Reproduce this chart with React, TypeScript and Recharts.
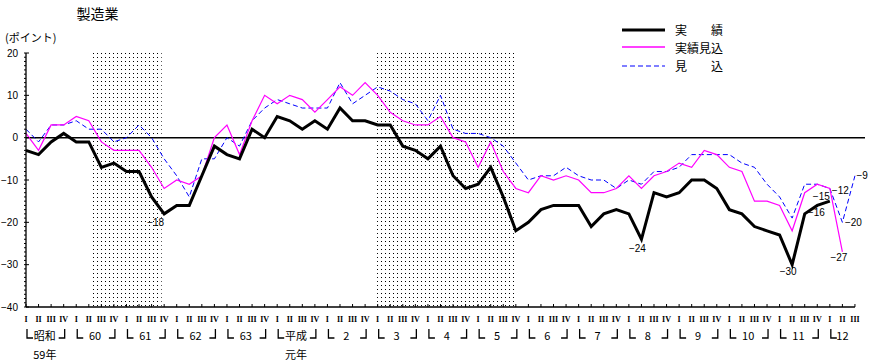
import React from "react"
import {
  LineChart,
  Line,
  XAxis,
  YAxis,
  ReferenceLine,
  ReferenceArea,
  LabelList,
} from "recharts"

// 昭和59年I期 〜 平成12年III期 (67 quarters)
const quarterNames = ["I", "II", "III", "IV"]
const yearNames = ["昭和", "60", "61", "62", "63", "平成", "2", "3", "4", "5", "6", "7", "8", "9", "10", "11", "12"]
const yearSubNames: Record<number, string> = { 0: "59年", 5: "元年" }

// 実績
const jisseki = [
  -3, -4, -1, 1, -1, -1, -7, -6, -8, -8, -14, -18, -16, -16, -9, -2,
  -4, -5, 2, 0, 5, 4, 2, 4, 2, 7, 4, 4, 3, 3, -2, -3,
  -5, -2, -9, -12, -11, -7, -14, -22, -20, -17, -16, -16, -16, -21, -18, -17,
  -18, -24, -13, -14, -13, -10, -10, -12, -17, -18, -21, -22, -23, -30, -18, -16,
  -15, null, null,
]
// 実績見込
const jissekiMikomi = [
  1, -3, 3, 3, 5, 4, -1, -3, -3, -3, -7, -12, -10, -11, -9, 0,
  3, -4, 4, 10, 8, 10, 9, 6, 9, 12, 10, 13, 10, 6, 4, 3,
  3, 5, 0, -1, -7, -1, -8, -12, -13, -9, -10, -9, -10, -13, -13, -12,
  -9, -12, -9, -8, -6, -7, -3, -4, -7, -8, -15, -15, -16, -22, -13, -11,
  -12, -27, null,
]
// 見込
const mikomi = [
  2, -1, 3, 3, 4, 2, 2, -1, 0, 3, 0, -5, -9, -14, -5, -5,
  0, -2, 4, 7, 9, 8, 7, 7, 7, 13, 8, 10, 12, 11, 9, 8,
  4, 10, 2, 1, 1, 0, -2, -6, -10, -9, -9, -7, -9, -10, -10, -12,
  -10, -11, -8, -8, -7, -4, -4, -4, -4, -6, -7, -11, -14, -19, -11, -11,
  -12, -20, -9,
]

// 景気後退期 (quarter index)
const shadedPeriods: [number, number][] = [
  [5.2, 10.8],
  [27.95, 38.9],
]

const data = jisseki.map((v, i) => ({
  i,
  jisseki: v,
  jissekiMikomi: jissekiMikomi[i],
  mikomi: mikomi[i],
}))

const W = 877
const H = 363
const Y_AXIS_W = 26
const RIGHT = 12
const X_MAX = 66.8
const QW = (W - Y_AXIS_W - RIGHT) / X_MAX

const JP = "'Noto Sans CJK JP', sans-serif"
const NUM = "'Liberation Sans', sans-serif"

const fmt = (v: number) => (v < 0 ? "\u2212" + Math.abs(v) : String(v))

type Spot = { dx: number; dy: number; anchor: "start" | "middle" | "end" }
const jissekiLabels: Record<number, Spot> = {
  11: { dx: 0, dy: 9, anchor: "end" },
  49: { dx: -4, dy: 9, anchor: "middle" },
  61: { dx: -4, dy: 7, anchor: "middle" },
  63: { dx: 7.5, dy: 7.5, anchor: "end" },
  64: { dx: 0, dy: -4.5, anchor: "end" },
}
const mikomiJLabels: Record<number, Spot> = {
  65: { dx: -3.5, dy: 6, anchor: "middle" },
}
const mikomiLabels: Record<number, Spot> = {
  64: { dx: 2, dy: 2, anchor: "start" },
  65: { dx: 2.5, dy: 0.5, anchor: "start" },
  66: { dx: 1.5, dy: 0, anchor: "start" },
}

const makeLabel = (spots: Record<number, Spot>) => (props: any) => {
  const { x, y, value, index } = props
  const s = spots[index]
  if (!s || value == null) return null
  return (
    <text
      x={x + s.dx}
      y={y + s.dy}
      textAnchor={s.anchor}
      dominantBaseline="central"
      fontSize={10}
      fontFamily={NUM}
      fill="#000"
    >
      {fmt(value)}
    </text>
  )
}

function XTick(props: any) {
  const { x, y, payload } = props
  const i = payload.value as number
  const q = i % 4
  const yr = Math.floor(i / 4)
  const last = yr === yearNames.length - 1
  const span = (last ? 2 : 3) * QW
  const sub = yearSubNames[yr]
  return (
    <g>
      <line x1={x} x2={x} y1={y} y2={y - 3} stroke="#000" />
      <text
        x={x}
        y={y + 12.5}
        textAnchor="middle"
        dominantBaseline="central"
        fontSize={8}
        fontWeight="bold"
        fontFamily="'Liberation Serif', serif"
        fill="#000"
      >
        {quarterNames[q]}
      </text>
      {q === 0 && (
        <g>
          <path d={`M${x + 1},${y + 22} V${y + 31} H${x + 7}`} fill="none" stroke="#000" strokeWidth={1.3} />
          {!last && (
            <path d={`M${x + span - 5},${y + 31} H${x + span + 1} V${y + 22}`} fill="none" stroke="#000" strokeWidth={1.3} />
          )}
          <text
            x={x + span / 2}
            y={y + 27.5}
            textAnchor="middle"
            dominantBaseline="central"
            fontSize={11}
            fontFamily={JP}
            fill="#000"
          >
            {yearNames[yr]}
          </text>
          {sub && (
            <text
              x={x + span / 2}
              y={y + 46.5}
              textAnchor="middle"
              dominantBaseline="central"
              fontSize={11}
              fontFamily={JP}
              fill="#000"
            >
              {sub}
            </text>
          )}
        </g>
      )}
    </g>
  )
}

function YTick(props: any) {
  const { x, y, payload } = props
  const v = payload.value as number
  const major = v % 10 === 0
  return (
    <g>
      <line x1={x - 2} x2={x} y1={y} y2={y} stroke="#000" />
      {major && <line x1={x} x2={x + 3} y1={y} y2={y} stroke="#000" />}
      {major && (
        <text
          x={x - 8}
          y={y}
          textAnchor="end"
          dominantBaseline="central"
          fontSize={10}
          fontFamily={NUM}
          fill="#000"
        >
          {fmt(v)}
        </text>
      )}
    </g>
  )
}

const xTicks = data.map((d) => d.i)
const yTicks = Array.from({ length: 61 }, (_, k) => 20 - k)

export default function App() {
  return (
    <div style={{ position: "absolute", left: 0, top: 0, width: W, height: H, background: "#fff" }}>
      <LineChart width={W} height={H} data={data} margin={{ top: 53, right: RIGHT, bottom: 0, left: 0 }}>
        <defs>
          <pattern id="dots" width={4} height={4} patternUnits="userSpaceOnUse">
            <rect x={1} y={1} width={1} height={1} fill="#000" />
          </pattern>
        </defs>
        {shadedPeriods.map(([a, b], k) => (
          <ReferenceArea key={k} x1={a} x2={b} y1={-40} y2={20} fill="url(#dots)" fillOpacity={1} stroke="none" ifOverflow="hidden" />
        ))}
        <XAxis
          type="number"
          dataKey="i"
          domain={[0, X_MAX]}
          ticks={xTicks}
          interval={0}
          allowDataOverflow
          axisLine={false}
          tickLine={false}
          tickSize={0}
          tickMargin={0}
          height={56}
          tick={<XTick />}
        />
        <YAxis
          type="number"
          domain={[-40, 20]}
          ticks={yTicks}
          interval={0}
          allowDataOverflow
          width={Y_AXIS_W}
          axisLine={{ stroke: "#000", strokeWidth: 1.3 }}
          tickLine={false}
          tickSize={0}
          tickMargin={0}
          tick={<YTick />}
        />
        <ReferenceLine y={0} stroke="#000" strokeWidth={1.5} />
        <ReferenceLine
          segment={[
            { x: 0, y: -40 },
            { x: 66, y: -40 },
          ]}
          stroke="#000"
          strokeWidth={1.3}
        />
        <Line
          dataKey="mikomi"
          stroke="#0000ff"
          strokeWidth={1}
          strokeDasharray="5 3"
          dot={false}
          activeDot={false}
          isAnimationActive={false}
        >
          <LabelList dataKey="mikomi" content={makeLabel(mikomiLabels)} />
        </Line>
        <Line
          dataKey="jissekiMikomi"
          stroke="#ff00ff"
          strokeWidth={1.2}
          dot={false}
          activeDot={false}
          isAnimationActive={false}
        >
          <LabelList dataKey="jissekiMikomi" content={makeLabel(mikomiJLabels)} />
        </Line>
        <Line
          dataKey="jisseki"
          stroke="#000"
          strokeWidth={3}
          dot={false}
          activeDot={false}
          isAnimationActive={false}
        >
          <LabelList dataKey="jisseki" content={makeLabel(jissekiLabels)} />
        </Line>
      </LineChart>
      <svg
        width={W}
        height={H}
        style={{ position: "absolute", left: 0, top: 0, pointerEvents: "none" }}
      >
        <text x={97.5} y={13} textAnchor="middle" dominantBaseline="central" fontSize={14} fontFamily={JP}>
          製造業
        </text>
        <text x={5} y={37} dominantBaseline="central" fontSize={11} fontFamily={JP}>
          (ポイント)
        </text>
        <line x1={622} x2={665} y1={30} y2={30} stroke="#000" strokeWidth={3} />
        <text x={675} y={29} dominantBaseline="central" fontSize={12} fontFamily={JP}>
          実　　績
        </text>
        <line x1={622} x2={665} y1={47} y2={47} stroke="#ff00ff" strokeWidth={1.6} />
        <text x={675} y={47} dominantBaseline="central" fontSize={12} fontFamily={JP}>
          実績見込
        </text>
        <line x1={622} x2={665} y1={66} y2={66} stroke="#0000ff" strokeWidth={1.2} strokeDasharray="5 3" />
        <text x={675} y={65} dominantBaseline="central" fontSize={12} fontFamily={JP}>
          見　　込
        </text>
      </svg>
    </div>
  )
}
